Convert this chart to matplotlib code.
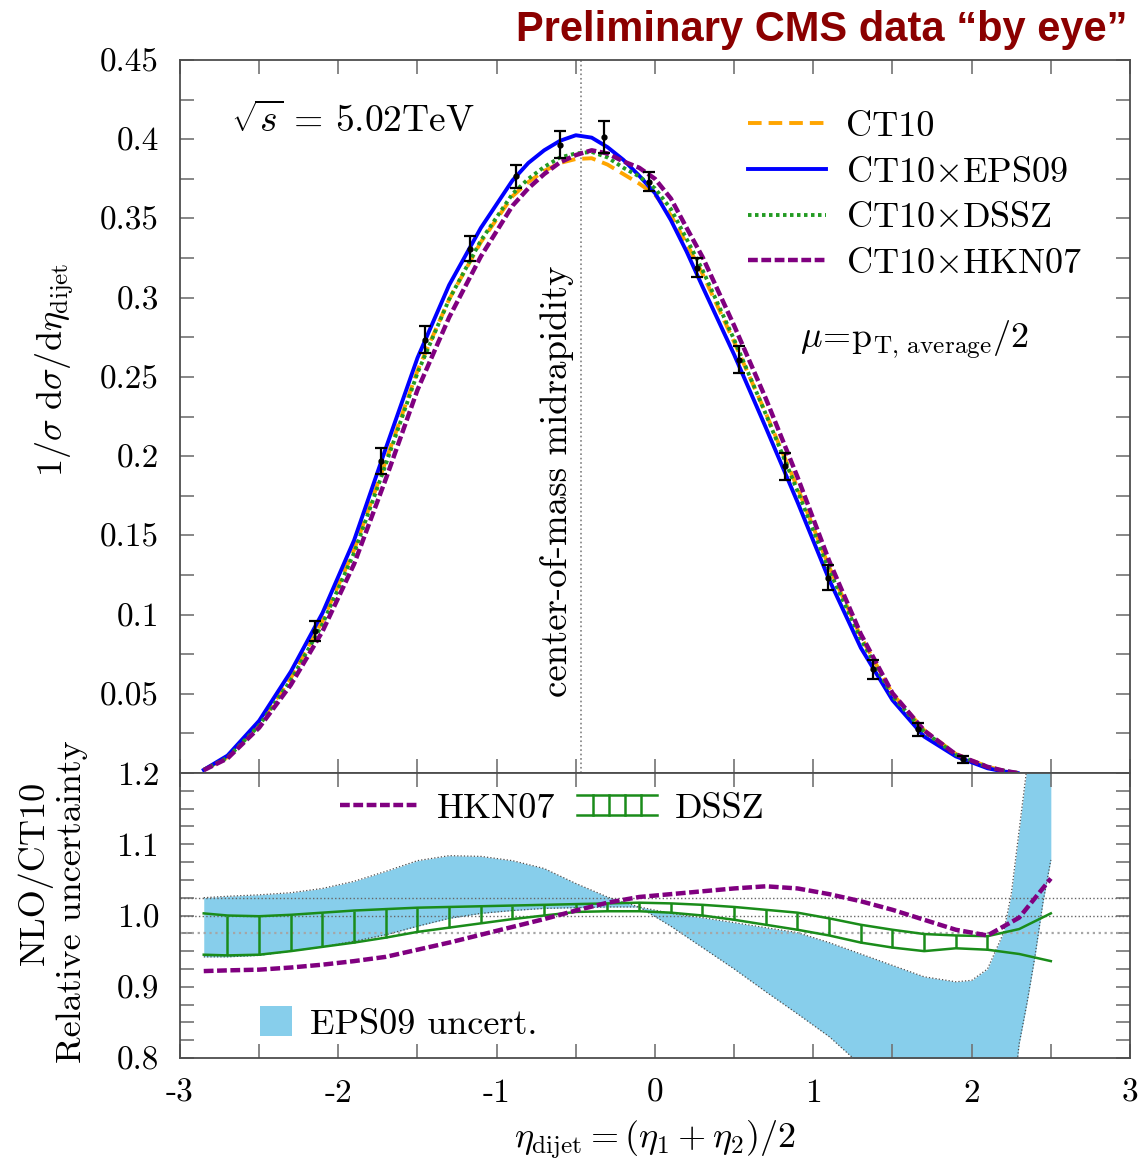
import numpy as np
import matplotlib
matplotlib.use('Agg')
import matplotlib.pyplot as plt
from matplotlib.lines import Line2D
from matplotlib.patches import Patch

plt.rcParams['font.family'] = 'serif'
plt.rcParams['font.serif'] = ['cmr10']
plt.rcParams['mathtext.fontset'] = 'cm'
plt.rcParams['axes.unicode_minus'] = False
plt.rcParams['axes.formatter.use_mathtext'] = True

# data points read "by eye"
pt_x = [-2.15, -1.73, -1.45, -1.17, -0.88, -0.60, -0.32, -0.04, 0.265, 0.53, 0.82, 1.095, 1.38, 1.663, 1.948]
pt_y = [0.0895, 0.197, 0.2735, 0.331, 0.3765, 0.3965, 0.4015, 0.3733, 0.3188, 0.2608, 0.1936, 0.1232, 0.0654, 0.0276, 0.0086]
pt_err = [0.0063, 0.008, 0.0084, 0.0079, 0.0074, 0.0084, 0.010, 0.0063, 0.006, 0.0084, 0.0084, 0.0079, 0.0058, 0.0042, 0.002]

# NLO curves (top panel)
x_top = [-2.85, -2.7, -2.5, -2.3, -2.1, -1.9, -1.7, -1.5, -1.3, -1.1, -0.9, -0.8, -0.7, -0.6, -0.5, -0.4, -0.3,
         -0.2, -0.1, 0.0, 0.1, 0.2, 0.3, 0.5, 0.7, 0.9, 1.1, 1.3, 1.5, 1.7, 1.9, 2.1, 2.2, 2.29]
ct10 = [0.002, 0.010, 0.031, 0.060, 0.096, 0.141, 0.197, 0.254, 0.299, 0.335, 0.364, 0.373, 0.380, 0.385, 0.3875,
        0.388, 0.384, 0.378, 0.372, 0.365, 0.352, 0.334, 0.315, 0.272, 0.227, 0.180, 0.130, 0.086, 0.050, 0.027,
        0.012, 0.004, 0.0015, 0.0]
eps09 = [0.002, 0.011, 0.033, 0.064, 0.101, 0.147, 0.205, 0.262, 0.308, 0.344, 0.374, 0.385, 0.393, 0.399, 0.4025,
         0.401, 0.395, 0.387, 0.377, 0.366, 0.349, 0.329, 0.307, 0.264, 0.218, 0.171, 0.122, 0.079, 0.046, 0.023,
         0.0105, 0.003, 0.001, 0.0]
dssz = [0.002, 0.0097, 0.030, 0.0585, 0.094, 0.139, 0.195, 0.2525, 0.299, 0.336, 0.3655, 0.375, 0.3825, 0.3885,
        0.391, 0.392, 0.3885, 0.382, 0.3765, 0.369, 0.356, 0.337, 0.3175, 0.2735, 0.2265, 0.178, 0.128, 0.0845,
        0.0485, 0.026, 0.0116, 0.0039, 0.0015, 0.0]
hkn07 = [0.0018, 0.0092, 0.0286, 0.0556, 0.0894, 0.132, 0.1856, 0.2418, 0.2876, 0.326, 0.358, 0.369, 0.378, 0.3854,
         0.390, 0.393, 0.391, 0.386, 0.382, 0.375, 0.3626, 0.344, 0.3257, 0.2823, 0.2363, 0.1868, 0.1339, 0.0877,
         0.0504, 0.0268, 0.0118, 0.0039, 0.0015, 0.0]

# ratios (bottom panel)
x_r = [-2.85, -2.7, -2.5, -2.3, -2.1, -1.9, -1.7, -1.5, -1.3, -1.1, -0.9, -0.7, -0.5, -0.3, -0.1,
       0.1, 0.3, 0.5, 0.7, 0.9, 1.1, 1.3, 1.5, 1.7, 1.9, 2.1, 2.3, 2.5]
hkn_ratio = [0.922, 0.923, 0.924, 0.927, 0.931, 0.936, 0.942, 0.952, 0.962, 0.973, 0.984, 0.995, 1.007,
             1.018, 1.026, 1.030, 1.034, 1.038, 1.041, 1.038, 1.030, 1.020, 1.008, 0.994, 0.980, 0.972,
             0.997, 1.052]
dssz_hi = [1.003, 1.000, 0.999, 1.001, 1.004, 1.007, 1.009, 1.011, 1.012, 1.013, 1.014, 1.015, 1.016,
           1.017, 1.018, 1.017, 1.015, 1.012, 1.008, 1.004, 0.996, 0.987, 0.980, 0.974, 0.972, 0.971,
           0.981, 1.003]
dssz_lo = [0.945, 0.944, 0.945, 0.950, 0.956, 0.962, 0.969, 0.977, 0.983, 0.989, 0.995, 1.000, 1.005,
           1.006, 1.006, 1.004, 1.000, 0.994, 0.987, 0.980, 0.972, 0.962, 0.955, 0.950, 0.954, 0.952,
           0.946, 0.936]

x_band = [-2.85, -2.7, -2.5, -2.3, -2.1, -1.9, -1.7, -1.5, -1.3, -1.1, -0.9, -0.7, -0.5, -0.3, -0.1,
          0.1, 0.3, 0.5, 0.7, 0.9, 1.1, 1.3, 1.5, 1.7, 1.9, 2.0, 2.1, 2.2, 2.25, 2.3, 2.35, 2.4, 2.45, 2.5]
eps_hi = [1.025, 1.027, 1.029, 1.032, 1.038, 1.048, 1.062, 1.077, 1.084, 1.083, 1.077, 1.066, 1.045,
          1.026, 1.012, 1.003, 0.997, 0.990, 0.983, 0.976, 0.962, 0.946, 0.930, 0.914, 0.907, 0.909,
          0.925, 0.975, 1.03, 1.12, 1.21, 1.30, 1.40, 1.50]
eps_lo = [0.942, 0.942, 0.944, 0.950, 0.956, 0.964, 0.973, 0.985, 0.996, 1.003, 1.007, 1.010, 1.011,
          1.012, 1.012, 0.985, 0.955, 0.925, 0.893, 0.862, 0.830, 0.790, 0.76, 0.73, 0.70, 0.69,
          0.68, 0.69, 0.72, 0.82, 0.878, 0.943, 1.018, 1.078]

c_orange = '#FFA500'
c_blue = '#0000FF'
c_green = '#239b23'
c_purple = '#800080'
c_band_green = '#1a8c1a'
c_sky = '#87CEEB'


class DsszHandler:
    # two green lines with vertical hatching, like the band in the plot
    def legend_artist(self, legend, orig_handle, fontsize, handlebox):
        x0, y0 = handlebox.xdescent, handlebox.ydescent
        w, h = handlebox.width, handlebox.height
        tr = handlebox.get_transform()
        kw = dict(color=c_band_green, lw=1.8, transform=tr)
        lines = [Line2D([x0, x0 + w], [y0 + 0.1 * h] * 2, **kw),
                 Line2D([x0, x0 + w], [y0 + 0.9 * h] * 2, **kw)]
        for f in (0.2, 0.4, 0.6, 0.8):
            lines.append(Line2D([x0 + f * w] * 2, [y0 + 0.1 * h, y0 + 0.9 * h], **kw))
        for ln in lines:
            handlebox.add_artist(ln)
        return lines[0]


fig = plt.figure(figsize=(11.45, 11.67), dpi=100)
ax1 = fig.add_axes([0.1572, 0.3376, 0.8297, 0.611])
ax2 = fig.add_axes([0.1572, 0.0934, 0.8297, 0.2442])

# top panel
ax1.axvline(-0.465, color='0.5', ls=':', lw=1.2)
ax1.plot(x_top, ct10, color=c_orange, lw=2.8, ls=(0, (3.5, 1.8)), label='CT10')
ax1.plot(x_top, eps09, color=c_blue, lw=2.8, label=r'CT10$\times$EPS09')
ax1.plot(x_top, dssz, color=c_green, lw=2.8, ls=(0, (0.9, 0.9)), label=r'CT10$\times$DSSZ')
ax1.plot(x_top, hkn07, color=c_purple, lw=3.2, ls=(0, (2.2, 0.8)), label=r'CT10$\times$HKN07')
ax1.errorbar(pt_x, pt_y, yerr=pt_err, fmt='o', ms=3.5, color='black', ecolor='black',
             elinewidth=1.6, capsize=4.5, capthick=1.6, zorder=5)

ax1.legend(loc='upper left', bbox_to_anchor=(0.598, 0.929), frameon=False, fontsize=26,
           handlelength=2.15, handletextpad=0.55, labelspacing=0.37, borderpad=0, borderaxespad=0)

ax1.text(-2.68, 0.412, r'$\sqrt{s}\,=\,5.02\mathrm{TeV}$', fontsize=27, va='center')
ax1.text(0.916, 0.2735, r'$\mu\!=\!\mathrm{p}_{\mathrm{T,\,average}}/2$', fontsize=26, va='center')
ax1.text(-0.62, 0.184, 'center-of-mass midrapidity', rotation=90, ha='center', va='center', fontsize=26.5)

ax1.set_xlim(-3, 3)
ax1.set_ylim(0, 0.45)
ax1.set_yticks([0.05, 0.1, 0.15, 0.2, 0.25, 0.3, 0.35, 0.4, 0.45],
               ['0.05', '0.1', '0.15', '0.2', '0.25', '0.3', '0.35', '0.4', '0.45'])
ax1.set_yticks([0.025, 0.075, 0.125, 0.175, 0.225, 0.275, 0.325, 0.375, 0.425], minor=True)
ax1.set_xticks([-3, -2, -1, 0, 1, 2, 3])
ax1.set_xticks([-2.5, -1.5, -0.5, 0.5, 1.5, 2.5], minor=True)
ax1.tick_params(labelbottom=False)

# bottom panel
ax2.fill_between(x_band, eps_lo, eps_hi, color=c_sky, lw=0, zorder=1)
ax2.plot(x_band, eps_hi, color='0.3', ls=':', lw=0.9, zorder=2)
ax2.plot(x_band, eps_lo, color='0.3', ls=':', lw=0.9, zorder=2)
ax2.axhline(1.025, color='0.4', ls=':', lw=1.0, zorder=2)
ax2.axhline(1.0, color='0.4', ls=':', lw=1.0, zorder=2)
ax2.axhline(0.975, color='0.65', ls=':', lw=1.6, zorder=2)

ax2.plot(x_r, dssz_hi, color=c_band_green, lw=1.8, zorder=3)
ax2.plot(x_r, dssz_lo, color=c_band_green, lw=1.8, zorder=3)
ax2.vlines(x_r[1:26], dssz_lo[1:26], dssz_hi[1:26], color=c_band_green, lw=1.8, zorder=3)
ax2.plot(x_r, hkn_ratio, color=c_purple, lw=3.2, ls=(0, (2.2, 0.8)), zorder=4)

hkn_handle = Line2D([], [], color=c_purple, lw=3.2, ls=(0, (2.2, 0.8)))
dssz_handle = Line2D([], [], color=c_band_green)
leg1 = ax2.legend([hkn_handle, dssz_handle], ['HKN07', 'DSSZ'], handler_map={dssz_handle: DsszHandler()},
                  loc='upper left', bbox_to_anchor=(0.168, 0.932), ncol=2, frameon=False, fontsize=26,
                  handlelength=2.2, handletextpad=0.5, columnspacing=0.6, borderpad=0, borderaxespad=0)
ax2.add_artist(leg1)
ax2.legend([Patch(facecolor=c_sky, edgecolor='none')], ['EPS09 uncert.'], loc='upper left',
           bbox_to_anchor=(0.084, 0.182), frameon=False, fontsize=26, handlelength=0.9, handleheight=0.9,
           handletextpad=0.5, borderpad=0, borderaxespad=0)

ax2.set_xlim(-3, 3)
ax2.set_ylim(0.8, 1.2)
ax2.set_yticks([0.8, 0.9, 1.0, 1.1, 1.2], ['0.8', '0.9', '1.0', '1.1', '1.2'])
ax2.set_yticks([0.825, 0.85, 0.875, 0.925, 0.95, 0.975, 1.025, 1.05, 1.075, 1.125, 1.15, 1.175], minor=True)
ax2.set_xticks([-3, -2, -1, 0, 1, 2, 3], ['-3', '-2', '-1', '0', '1', '2', '3'])
ax2.set_xticks([-2.5, -1.5, -0.5, 0.5, 1.5, 2.5], minor=True)

for ax in (ax1, ax2):
    ax.tick_params(which='both', direction='in', top=True, right=True, length=10, width=1.2,
                   color='0.45', labelsize=24)
    ax.tick_params(axis='y', pad=15)
    ax.tick_params(axis='x', pad=15)
    for s in ax.spines.values():
        s.set_color('0.3')
        s.set_linewidth(1.3)

fig.text(55 / 1145, 1 - 370 / 1167, r'$1/\sigma\ \mathrm{d}\sigma/\mathrm{d}\eta_{\mathrm{dijet}}$',
         rotation=90, ha='center', va='center', fontsize=26)
fig.text(35 / 1145, 1 - 873 / 1167, 'NLO/CT10', rotation=90, ha='center', va='center', fontsize=26)
fig.text(72 / 1145, 1 - 902 / 1167, 'Relative uncertainty', rotation=90, ha='center', va='center', fontsize=26)
fig.text(655 / 1145, 1 - 1140 / 1167, r'$\eta_{\mathrm{dijet}} = (\eta_1 + \eta_2)/2$',
         ha='center', va='center', fontsize=26)
fig.text(1128 / 1145, 1 - 30 / 1167, 'Preliminary CMS data \u201cby eye\u201d', ha='right', va='center',
         fontsize=30, fontweight='bold', family='Liberation Sans', color='#8B0000')

fig.savefig('out.png', dpi=100)
